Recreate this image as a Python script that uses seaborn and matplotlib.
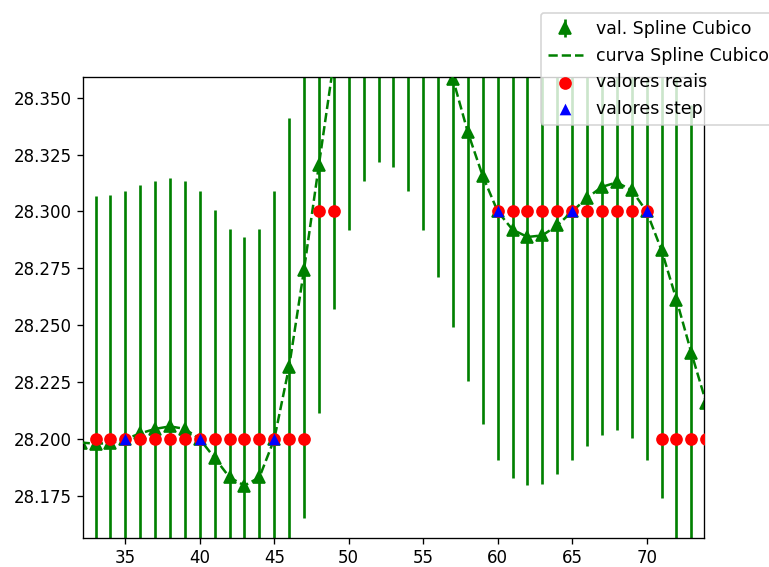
import matplotlib
matplotlib.use("Agg")
import matplotlib.pyplot as plt
import seaborn as sns

# Cubic spline values evaluated at every integer position
x_spline = list(range(32, 75))
y_spline = [
    28.1985, 28.1980, 28.1982, 28.2000, 28.2025, 28.2045, 28.2056, 28.2045,
    28.2000, 28.1917, 28.1832, 28.1796, 28.1832, 28.2000, 28.2319, 28.2745,
    28.3206, 28.3660, 28.4010, 28.4226, 28.4308, 28.4286, 28.4182, 28.4010,
    28.3803, 28.3581, 28.3347, 28.3155, 28.3000, 28.2920, 28.2888, 28.2895,
    28.2939, 28.3000, 28.3060, 28.3108, 28.3128, 28.3093, 28.3000, 28.2830,
    28.2613, 28.2379, 28.2159,
]
erro_spline = 0.109

# Measured values
x_reais = list(range(33, 75))
y_reais = (
    [28.2] * 15      # 33 .. 47
    + [28.3] * 2     # 48 .. 49
    + [28.4] * 10    # 50 .. 59
    + [28.3] * 11    # 60 .. 70
    + [28.2] * 4     # 71 .. 74
)

# Sampled (step) values used as spline knots
x_step = [35, 40, 45, 50, 55, 60, 65, 70]
y_step = [28.2, 28.2, 28.2, 28.4, 28.4, 28.3, 28.3, 28.3]

W, H, DPI = 769, 567, 120
fig, ax = plt.subplots(figsize=(W / DPI, H / DPI), dpi=DPI)
fig.subplots_adjust(left=83.3 / W, right=704 / W,
                    bottom=1 - 537.7 / H, top=1 - 76.7 / H)

ax.errorbar(x_spline, y_spline, yerr=erro_spline, fmt='^', color='g',
            ecolor='g', elinewidth=1.6, markersize=7,
            label='val. Spline Cubico', zorder=2)
sns.lineplot(x=x_spline, y=y_spline, color='g', linestyle='--',
             linewidth=1.5, label='curva Spline Cubico', ax=ax, zorder=3)
sns.scatterplot(x=x_reais, y=y_reais, color='r', marker='o', s=58,
                linewidth=0, label='valores reais', ax=ax, zorder=4)
sns.scatterplot(x=x_step, y=y_step, color='b', marker='^', s=49,
                linewidth=0, label='valores step', ax=ax, zorder=5)

ax.set_xlim(32.18, 73.85)
ax.set_ylim(28.1567, 28.3592)
ax.set_xlabel('')
ax.set_ylabel('')

# Legend entries in drawing order: spline points first
ordem = ['val. Spline Cubico', 'curva Spline Cubico',
         'valores reais', 'valores step']
handles, labels = ax.get_legend_handles_labels()
por_nome = dict(zip(labels, handles))
ax.legend([por_nome[n] for n in ordem], ordem,
          loc='upper left', bbox_to_anchor=(541 / W, 1 - 13 / H),
          bbox_transform=fig.transFigure, borderaxespad=0, fontsize=10.4)

fig.savefig('out.png', dpi=DPI)
